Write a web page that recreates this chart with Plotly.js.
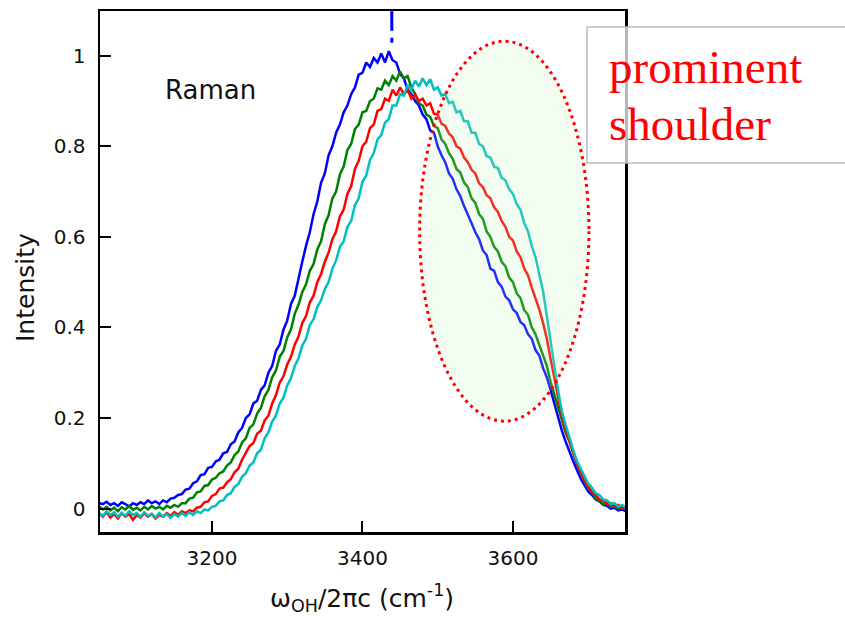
<!DOCTYPE html>
<html>
<head>
<meta charset="utf-8">
<script src="https://cdn.plot.ly/plotly-3.0.1.min.js"></script>
<style>html,body{margin:0;padding:0;background:#fff;}#chart{width:845px;height:619px;}</style>
</head>
<body>
<div id="chart"></div>
<script>
// Wavenumber grid (cm^-1)
const wavenumber = [3050,3055,3060,3065,3070,3075,3080,3085,3090,3095,3100,3105,3110,3115,3120,3125,3130,3135,3140,3145,3150,3155,3160,3165,3170,3175,3180,3185,3190,3195,3200,3205,3210,3215,3220,3225,3230,3235,3240,3245,3250,3255,3260,3265,3270,3275,3280,3285,3290,3295,3300,3305,3310,3315,3320,3325,3330,3335,3340,3345,3350,3355,3360,3365,3370,3375,3380,3385,3390,3395,3400,3405,3410,3415,3420,3425,3430,3435,3440,3445,3450,3455,3460,3465,3470,3475,3480,3485,3490,3495,3500,3505,3510,3515,3520,3525,3530,3535,3540,3545,3550,3555,3560,3565,3570,3575,3580,3585,3590,3595,3600,3605,3610,3615,3620,3625,3630,3635,3640,3645,3650,3655,3660,3665,3670,3675,3680,3685,3690,3695,3700,3705,3710,3715,3720,3725,3730,3735,3740,3745,3750];

const blueSeries = [.012,.01,.015,.008,.012,.006,.014,.01,.004,.012,.008,.014,.01,.018,.012,.016,.01,.018,.014,.022,.024,.03,.032,.042,.044,.056,.06,.074,.076,.09,.092,.104,.108,.122,.125,.142,.148,.168,.178,.2,.208,.232,.238,.262,.272,.3,.315,.348,.362,.395,.415,.452,.47,.51,.545,.58,.61,.65,.678,.72,.74,.78,.8,.83,.848,.875,.89,.915,.93,.958,.962,.985,.975,.995,.985,1.005,.985,1.01,.99,.985,.96,.95,.925,.915,.9,.89,.87,.86,.835,.83,.8,.78,.765,.74,.728,.705,.69,.668,.65,.63,.61,.595,.57,.56,.53,.525,.5,.49,.468,.46,.44,.432,.412,.405,.385,.375,.35,.338,.31,.29,.262,.232,.2,.172,.148,.125,.105,.085,.066,.052,.038,.03,.02,.016,.008,.006,0,.002,-.004,-.002,-.006];

const greenSeries = [.005,-.002,.004,-.004,.002,-.006,.003,-.002,.006,-.003,.002,-.004,.004,-.002,.006,0,.004,-.002,.006,.002,.008,.004,.012,.012,.022,.024,.036,.038,.05,.052,.064,.068,.078,.082,.095,.102,.118,.126,.146,.155,.178,.186,.21,.222,.248,.262,.29,.305,.335,.348,.378,.396,.43,.45,.478,.495,.525,.54,.572,.59,.628,.648,.685,.7,.738,.755,.792,.805,.838,.848,.875,.878,.9,.905,.928,.925,.945,.935,.955,.945,.965,.95,.955,.93,.915,.895,.89,.87,.865,.845,.84,.815,.805,.785,.772,.75,.742,.72,.71,.685,.675,.65,.64,.612,.6,.578,.568,.545,.535,.51,.5,.475,.465,.438,.428,.4,.385,.362,.34,.315,.28,.252,.22,.195,.168,.148,.122,.1,.078,.062,.044,.038,.022,.018,.01,.012,.004,.006,0,.004,-.002];

const redSeries = [-.01,-.018,-.008,-.02,-.012,-.022,-.01,-.018,-.012,-.025,-.014,-.02,-.01,-.018,-.012,-.022,-.014,-.018,-.01,-.016,-.008,-.014,-.006,-.01,-.004,-.006,.002,.004,.014,.016,.028,.032,.044,.046,.058,.065,.08,.088,.108,.122,.138,.145,.165,.172,.195,.205,.232,.25,.278,.292,.318,.335,.362,.38,.41,.425,.455,.47,.5,.518,.545,.565,.595,.612,.645,.66,.695,.712,.75,.768,.8,.81,.84,.848,.878,.882,.905,.9,.925,.912,.93,.915,.925,.905,.915,.9,.905,.89,.895,.872,.87,.85,.845,.828,.82,.8,.795,.775,.765,.748,.74,.718,.71,.692,.685,.665,.655,.635,.622,.6,.592,.568,.555,.53,.515,.488,.465,.44,.41,.375,.33,.29,.25,.205,.175,.148,.125,.1,.082,.062,.05,.036,.03,.02,.018,.01,.012,.004,.008,0,.004];

const cyanSeries = [-.01,-.016,-.006,-.014,-.008,-.018,-.01,-.016,-.006,-.014,-.01,-.018,-.008,-.016,-.012,-.02,-.01,-.018,-.012,-.02,-.012,-.018,-.01,-.016,-.008,-.014,-.006,-.01,-.002,-.004,.004,.006,.016,.018,.03,.034,.048,.054,.07,.078,.095,.102,.122,.13,.155,.168,.192,.205,.232,.245,.272,.288,.315,.332,.36,.375,.405,.418,.445,.46,.485,.5,.53,.548,.578,.59,.622,.635,.67,.685,.722,.735,.77,.785,.815,.825,.852,.86,.89,.89,.915,.912,.935,.925,.945,.932,.95,.935,.948,.925,.93,.912,.915,.895,.898,.875,.878,.855,.855,.83,.83,.805,.8,.778,.775,.755,.752,.73,.725,.705,.695,.672,.66,.63,.612,.58,.555,.515,.48,.425,.365,.315,.26,.215,.185,.155,.13,.105,.088,.07,.055,.046,.034,.03,.02,.018,.01,.012,.004,.008,.002];

const seriesNames = ['blue', 'green', 'red', 'cyan'];
const seriesColors = ['#0000ff', '#008000', '#ff0000', '#00bfbf'];
const allSeries = [blueSeries, greenSeries, redSeries, cyanSeries];

const xTickVals = [3200, 3400, 3600];
const yTickVals = [0, 0.2, 0.4, 0.6, 0.8, 1];
const yTickText = ['0', '0.2', '0.4', '0.6', '0.8', '1'];

const peakMarkerX = 3439;

const traces = allSeries.map((ys, i) => ({
  type: 'scatter', mode: 'lines', name: seriesNames[i],
  x: wavenumber, y: ys,
  line: {color: seriesColors[i], width: 2.5},
  hoverinfo: 'skip'
}));

const sansFont = 'DejaVu Sans, Verdana, sans-serif';

const layout = {
  width: 845, height: 619,
  margin: {l: 100, r: 220, t: 11, b: 87, pad: 0},
  paper_bgcolor: '#ffffff', plot_bgcolor: '#ffffff',
  showlegend: false,
  xaxis: {
    range: [3051.2, 3748.9], tickvals: xTickVals, ticktext: xTickVals.map(String),
    ticks: 'inside', ticklen: 11, tickwidth: 2, tickcolor: '#000',
    showline: true, linecolor: '#000', linewidth: 2.5, mirror: true,
    showgrid: false, zeroline: false,
    tickfont: {family: sansFont, size: 20, color: '#111'},
    ticklabelstandoff: 6
  },
  yaxis: {
    range: [-0.0517, 1.0987], tickvals: yTickVals, ticktext: yTickText,
    ticks: 'inside', ticklen: 11, tickwidth: 2, tickcolor: '#000',
    showline: true, linecolor: '#000', linewidth: 2.5, mirror: true,
    showgrid: false, zeroline: false,
    tickfont: {family: sansFont, size: 20, color: '#111'},
    ticklabelstandoff: 8
  },
  shapes: [
    {type: 'circle', xref: 'x', yref: 'y', x0: 3476, x1: 3701, y0: 0.193, y1: 1.032,
     fillcolor: 'rgba(190,240,180,0.2)', line: {color: '#ff0000', width: 3, dash: '3px,4px'}, layer: 'above'},
    {type: 'line', xref: 'x', yref: 'y', x0: peakMarkerX, x1: peakMarkerX, y0: 1.099, y1: 1.028,
     line: {color: '#0000ff', width: 3, dash: '20px,7px,5px,60px'}, layer: 'above'},
    {type: 'rect', xref: 'paper', yref: 'paper', x0: 0.9276, x1: 1.45, y0: 0.7083, y1: 0.9693,
     fillcolor: 'rgba(255,255,255,0.72)', line: {color: '#bdbdbd', width: 1.5}, layer: 'above'}
  ],
  annotations: [
    {text: 'Raman', xref: 'paper', yref: 'paper', x: (210 - 100) / 525, y: (532 - 90) / 521,
     xanchor: 'center', yanchor: 'middle', showarrow: false,
     font: {family: sansFont, size: 26, color: '#111'}},
    {text: 'prominent', xref: 'paper', yref: 'paper', x: (607 - 100) / 525, y: (532 - 67) / 521,
     xanchor: 'left', yanchor: 'middle', showarrow: false,
     font: {family: 'Liberation Serif, Times New Roman, serif', size: 47, color: '#ff0000'}},
    {text: 'shoulder', xref: 'paper', yref: 'paper', x: (607 - 100) / 525, y: (532 - 124) / 521,
     xanchor: 'left', yanchor: 'middle', showarrow: false,
     font: {family: 'Liberation Serif, Times New Roman, serif', size: 47, color: '#ff0000'}},
    {text: 'Intensity', xref: 'paper', yref: 'paper', x: (25 - 100) / 525, y: (532 - 288) / 521,
     xanchor: 'center', yanchor: 'middle', textangle: -90, showarrow: false,
     font: {family: sansFont, size: 25, color: '#111'}},
    {text: 'ω<sub>OH</sub>/2πc (cm<sup>-1</sup>)', xref: 'paper', yref: 'paper', x: (362 - 100) / 525, y: (532 - 598) / 521,
     xanchor: 'center', yanchor: 'middle', showarrow: false,
     font: {family: sansFont, size: 25, color: '#111'}}
  ]
};

Plotly.newPlot('chart', traces, layout, {displayModeBar: false, staticPlot: true});
</script>
</body>
</html>
